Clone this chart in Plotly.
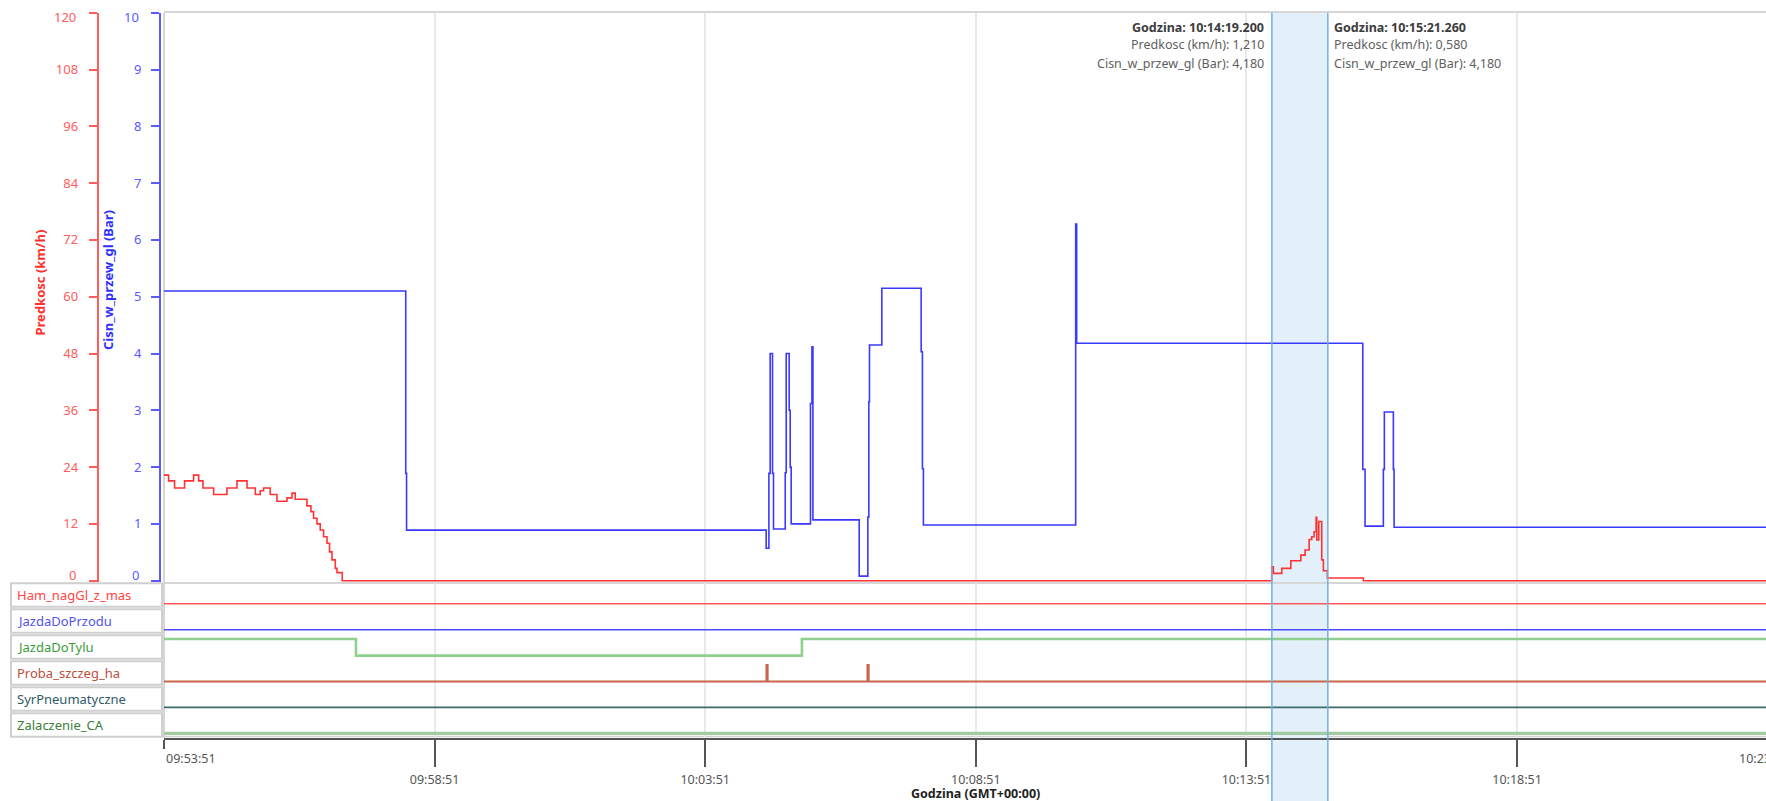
import plotly.graph_objects as go

W, H = 1766, 801
DAY = "2024-01-01 "

# ---------------- data ----------------
PRESS_TIME = ["09:53:51.0", "09:58:19.0", "09:58:19.9", "10:04:58.6", "10:05:01.6", "10:05:03.0",
              "10:05:05.6", "10:05:06.7", "10:05:19.7", "10:05:20.8", "10:05:24.1", "10:05:25.2",
              "10:05:26.3", "10:05:47.7", "10:05:49.3", "10:05:50.4", "10:06:41.7", "10:06:51.3",
              "10:06:52.4", "10:06:53.1", "10:07:06.8", "10:07:50.4", "10:07:51.8", "10:07:52.9",
              "10:10:41.7", "10:10:42.8", "10:16:00.0", "10:16:02.5", "10:16:22.8", "10:16:23.9",
              "10:16:33.9", "10:16:34.7", "10:23:27.0"]
PRESS_BAR = [5.10, 1.89, 0.89, 0.57, 1.89, 4.00,
             1.89, 0.91, 1.90, 4.00, 3.00, 2.00,
             1.00, 3.12, 4.12, 1.07, 0.08, 1.12,
             3.15, 4.15, 5.15, 4.03, 1.97, 0.98,
             6.28, 4.18, 1.96, 0.96, 1.96, 2.97,
             1.96, 0.94, 0.94]

SPEED_TIME = ["09:53:51.0", "09:53:56.1", "09:54:02.7", "09:54:13.8", "09:54:23.8", "09:54:29.4",
              "09:54:34.2", "09:54:46.0", "09:55:00.8", "09:55:11.9", "09:55:23.0", "09:55:32.2",
              "09:55:37.7", "09:55:41.4", "09:55:48.8", "09:55:56.2", "09:56:07.3", "09:56:12.9",
              "09:56:16.5", "09:56:29.5", "09:56:33.9", "09:56:36.8", "09:56:40.6", "09:56:44.2",
              "09:56:47.9", "09:56:51.7", "09:56:54.5", "09:56:57.2", "09:57:00.9", "09:57:02.8",
              "09:57:08.6", "10:14:19.0", "10:14:20.9", "10:14:30.2", "10:14:40.2", "10:14:51.3",
              "10:14:56.0", "10:15:00.5", "10:15:03.4", "10:15:06.0", "10:15:08.2", "10:15:09.0",
              "10:15:11.2", "10:15:14.5", "10:15:16.3", "10:15:20.7", "10:16:00.6", "10:23:27.0"]
SPEED_KMH = [22.3, 21.1, 19.6, 21.1, 22.3, 21.1,
             19.6, 18.2, 19.6, 21.1, 19.6, 18.2,
             19.0, 19.6, 18.2, 16.8, 17.5, 18.5,
             17.2, 15.8, 14.6, 13.2, 12.0, 10.7,
             9.3, 7.9, 6.1, 4.4, 2.6, 1.7,
             0.0, 2.96, 1.55, 2.6, 4.2, 5.4,
             6.5, 8.7, 9.3, 10.35, 13.4, 8.6,
             12.5, 4.4, 2.1, 0.58, 0.0, 0.0]

CHANNELS = ["Ham_nagGl_z_mas", "JazdaDoPrzodu", "JazdaDoTylu",
            "Proba_szczeg_ha", "SyrPneumatyczne", "Zalaczenie_CA"]
CH_TIME = {
    "Ham_nagGl_z_mas": ["09:53:51.0", "10:23:27.0"],
    "JazdaDoPrzodu": ["09:53:51.0", "10:23:27.0"],
    "JazdaDoTylu": ["09:53:51.0", "09:57:23.8", "10:05:38.2", "10:23:27.0"],
    "Proba_szczeg_ha": ["09:53:51.0", "10:04:58.9", "10:05:00.2", "10:06:50.9", "10:06:52.2", "10:23:27.0"],
    "SyrPneumatyczne": ["09:53:51.0", "10:23:27.0"],
    "Zalaczenie_CA": ["09:53:51.0", "10:23:27.0"],
}
CH_VAL = {
    "Ham_nagGl_z_mas": [0, 0],
    "JazdaDoPrzodu": [0, 0],
    "JazdaDoTylu": [1, 0, 1, 1],
    "Proba_szczeg_ha": [0, 1, 0, 1, 0, 0],
    "SyrPneumatyczne": [0, 0],
    "Zalaczenie_CA": [0, 0],
}

X_START, X_END = "09:53:51", "10:23:27"
TICK_TIMES = ["09:53:51", "09:58:51", "10:03:51", "10:08:51", "10:13:51", "10:18:51", "10:23:51"]
SPEED_TICKS = [0, 12, 24, 36, 48, 60, 72, 84, 96, 108, 120]
PRESS_TICKS = [0, 1, 2, 3, 4, 5, 6, 7, 8, 9, 10]

CURSOR_A, CURSOR_B = "10:14:19.200", "10:15:21.260"
CURSOR_A_TEXT = ["Godzina: 10:14:19.200", "Predkosc (km/h): 1,210", "Cisn_w_przew_gl (Bar): 4,180"]
CURSOR_B_TEXT = ["Godzina: 10:15:21.260", "Predkosc (km/h): 0,580", "Cisn_w_przew_gl (Bar): 4,180"]

# ---------------- styles ----------------
FONT = "Noto Sans"
RED, BLUE = "#ff3333", "#3a3aff"
RED_AX, BLUE_AX = "#ff5c5c", "#5a5aff"
CH_LINE = {"Ham_nagGl_z_mas": ("#ff5a5a", 1.6), "JazdaDoPrzodu": ("#4848ff", 1.6),
           "JazdaDoTylu": ("#8fd08f", 2.6), "Proba_szczeg_ha": ("#c8664a", 2.0),
           "SyrPneumatyczne": ("#3d6b6b", 1.6), "Zalaczenie_CA": ("#a2cba2", 3.2)}
CH_TEXT = {"Ham_nagGl_z_mas": "#ff4444", "JazdaDoPrzodu": "#5252ee", "JazdaDoTylu": "#3a9c3a",
           "Proba_szczeg_ha": "#b8503c", "SyrPneumatyczne": "#2f5b68", "Zalaczenie_CA": "#3c7c3c"}


def d(t):
    return DAY + t


def px(x):
    return x / W


def py(y):
    return 1 - y / H


MAIN_TOP, MAIN_BOT = 12.7, 582.0
ROW_TOP, ROW_H = 582.5, 25.9

fig = go.Figure()
fig.add_trace(go.Scatter(x=[d(t) for t in PRESS_TIME], y=PRESS_BAR, mode="lines",
                         line=dict(color=BLUE, width=1.6, shape="hv"), xaxis="x", yaxis="y",
                         name="Cisn_w_przew_gl (Bar)", showlegend=False))
fig.add_trace(go.Scatter(x=[d(t) for t in SPEED_TIME], y=SPEED_KMH, mode="lines",
                         line=dict(color=RED, width=1.6, shape="hv"), xaxis="x", yaxis="y2",
                         name="Predkosc (km/h)", showlegend=False))

layout = dict(
    width=W, height=H, margin=dict(l=0, r=0, t=0, b=0),
    paper_bgcolor="white", plot_bgcolor="rgba(0,0,0,0)",
    font=dict(family=FONT, size=13, color="#555"),
    showlegend=False,
)

x_common = dict(type="date", range=[d(X_START), d(X_END)], domain=[px(164), 1],
                showgrid=True, gridcolor="#e9e9e9", gridwidth=2,
                tickmode="array", tickvals=[d(t) for t in TICK_TIMES[1:]],
                zeroline=False, fixedrange=True)

layout["xaxis"] = dict(x_common, anchor="y", showticklabels=False, ticks="",
                       showline=True, linecolor="#d6d6d6", linewidth=2, mirror=True)

main_dom = [py(MAIN_BOT), py(MAIN_TOP)]
blue_per_px = 10 / (580.7 - 12.7)
red_per_px = 120 / (580.7 - 12.7)


def yax(ticks, color, pos, rng, standoff):
    # inner tick labels are drawn by the axis; the two end ticks are minor ticks and their
    # labels are nudged inward (as in the reference) via annotations below
    return dict(range=rng, anchor="free", position=pos, side="left",
                tickmode="array", tickvals=ticks[1:-1],
                ticks="outside", ticklen=8, tickwidth=2, tickcolor=color,
                minor=dict(tickmode="array", tickvals=[ticks[0], ticks[-1]], ticks="outside",
                           ticklen=8, tickwidth=2, tickcolor=color, showgrid=False),
                showline=True, linecolor=color, linewidth=2,
                showgrid=False, zeroline=False, ticklabelstandoff=standoff, fixedrange=True,
                tickfont=dict(color=color, size=13, family=FONT))


layout["yaxis"] = dict(yax(PRESS_TICKS, BLUE_AX, px(160), [-(MAIN_BOT - 580.7) * blue_per_px, 10], 7),
                       domain=main_dom)
layout["yaxis2"] = dict(yax(SPEED_TICKS, RED_AX, px(97.7), [-(MAIN_BOT - 580.7) * red_per_px, 120], 8),
                        overlaying="y")

shapes = []
annotations = []

# end labels of the two y axes, nudged inward
for ticks, yref, xr, color in ((PRESS_TICKS, "y", 141, BLUE_AX), (SPEED_TICKS, "y2", 77.5, RED_AX)):
    for val, shift in ((ticks[0], 5.5), (ticks[-1], -4.6)):
        annotations.append(dict(text=str(val), xref="paper", yref=yref, x=px(xr), y=val,
                                xanchor="right", yanchor="middle", yshift=shift, showarrow=False,
                                font=dict(family=FONT, size=13, color=color)))

for i, ch in enumerate(CHANNELS):
    xa, ya = f"x{i + 2}", f"y{i + 3}"
    top = ROW_TOP + ROW_H * i
    bot = top + ROW_H
    span = ROW_H - 9.3
    layout[f"yaxis{i + 3}"] = dict(domain=[py(bot), py(top)], anchor=xa,
                                   range=[-4.6 / span, 1 + 4.7 / span],
                                   showticklabels=False, showgrid=False, zeroline=False,
                                   showline=False, ticks="", fixedrange=True)
    xdef = dict(x_common, anchor=ya, matches="x", showticklabels=False, ticks="", showline=False)
    if i == len(CHANNELS) - 1:
        xdef.update(showticklabels=True, ticks="outside", ticklen=27, tickwidth=2, tickcolor="#555",
                    showline=True, linecolor="#555", linewidth=2, tickformat="%H:%M:%S",
                    tickvals=[d(t) for t in TICK_TIMES[1:-1]], ticklabelstandoff=2,
                    tickfont=dict(color="#555", size=12.5, family=FONT),
                    minor=dict(tickmode="array", tickvals=[d(TICK_TIMES[0])], ticks="outside",
                               ticklen=9, tickwidth=2, tickcolor="#555", showgrid=False))
    layout[f"xaxis{i + 2}"] = xdef
    col, wid = CH_LINE[ch]
    fig.add_trace(go.Scatter(x=[d(t) for t in CH_TIME[ch]], y=CH_VAL[ch], mode="lines",
                             line=dict(color=col, width=wid, shape="hv"), xaxis=xa, yaxis=ya,
                             name=ch, showlegend=False))
    # label box
    btop = 583.3 + 26.0 * i
    shapes.append(dict(type="rect", xref="paper", yref="paper", x0=px(11), x1=px(162),
                       y0=py(btop + 23.4), y1=py(btop), line=dict(color="#cfcfcf", width=2),
                       fillcolor="white", layer="above"))
    annotations.append(dict(text=ch, xref="paper", yref="paper", x=px(15), y=py(btop + 11.7),
                            xanchor="left", yanchor="middle", showarrow=False,
                            font=dict(family=FONT, size=13, color=CH_TEXT[ch])))

# frames
shapes.append(dict(type="line", xref="x domain", yref="paper", x0=0, x1=0,
                   y0=py(738), y1=py(MAIN_TOP), line=dict(color="#d6d6d6", width=2), layer="below"))
shapes.append(dict(type="line", xref="x domain", yref="paper", x0=0, x1=1,
                   y0=py(736.5), y1=py(736.5), line=dict(color="#d0d0d0", width=1.5), layer="below"))

# cursor band
shapes.append(dict(type="rect", xref="x", yref="paper", x0=d(CURSOR_A), x1=d(CURSOR_B),
                   y0=0, y1=py(MAIN_TOP), fillcolor="#e3f0fa", line=dict(width=0), layer="below"))
for c in (CURSOR_A, CURSOR_B):
    shapes.append(dict(type="line", xref="x", yref="paper", x0=d(c), x1=d(c),
                       y0=0, y1=py(MAIN_TOP), line=dict(color="#6fb0e6", width=1.5), layer="above"))

LINE_Y = [27.3, 44.5, 63.3]
for j in range(3):
    bold = j == 0
    for c, texts, anchor, shift in ((CURSOR_A, CURSOR_A_TEXT, "right", -6),
                                    (CURSOR_B, CURSOR_B_TEXT, "left", 4)):
        txt = f"<b>{texts[j]}</b>" if bold else texts[j]
        annotations.append(dict(text=txt, xref="x", yref="paper", x=d(c), y=py(LINE_Y[j]),
                                xanchor=anchor, yanchor="middle", xshift=shift, showarrow=False,
                                font=dict(family=FONT, size=12.5,
                                          color="#3c3c3c" if bold else "#606060")))

# axis titles
annotations.append(dict(text="<b>Predkosc (km/h)</b>", xref="paper", yref="paper", x=px(39.5),
                        y=py(283), textangle=-90, showarrow=False, xanchor="center", yanchor="middle",
                        font=dict(family=FONT, size=13, color="#ff3030")))
annotations.append(dict(text="<b>Cisn_w_przew_gl (Bar)</b>", xref="paper", yref="paper", x=px(108),
                        y=py(280), textangle=-90, showarrow=False, xanchor="center", yanchor="middle",
                        font=dict(family=FONT, size=13, color="#2f2fff")))
annotations.append(dict(text="<b>Godzina (GMT+00:00)</b>", xref="paper", yref="paper", x=px(975),
                        y=py(793), showarrow=False, xanchor="center", yanchor="middle",
                        font=dict(family=FONT, size=12.5, color="#222")))

# edge tick labels (first one left-aligned at its tick, last one clipped by the window)
annotations.append(dict(text=TICK_TIMES[0], xref="x7", yref="paper", x=d(TICK_TIMES[0]), y=py(758),
                        xanchor="left", yanchor="middle", showarrow=False,
                        font=dict(family=FONT, size=12.5, color="#555")))
annotations.append(dict(text=TICK_TIMES[-1], xref="paper", yref="paper", x=px(1737), y=py(758),
                        xanchor="left", yanchor="middle", showarrow=False,
                        font=dict(family=FONT, size=12.5, color="#555")))

layout["shapes"] = shapes
layout["annotations"] = annotations
fig.update_layout(**layout)
fig.write_html("out.html", config={"displayModeBar": False},
               post_script="document.body.style.margin='0px';document.body.style.overflow='hidden';")
